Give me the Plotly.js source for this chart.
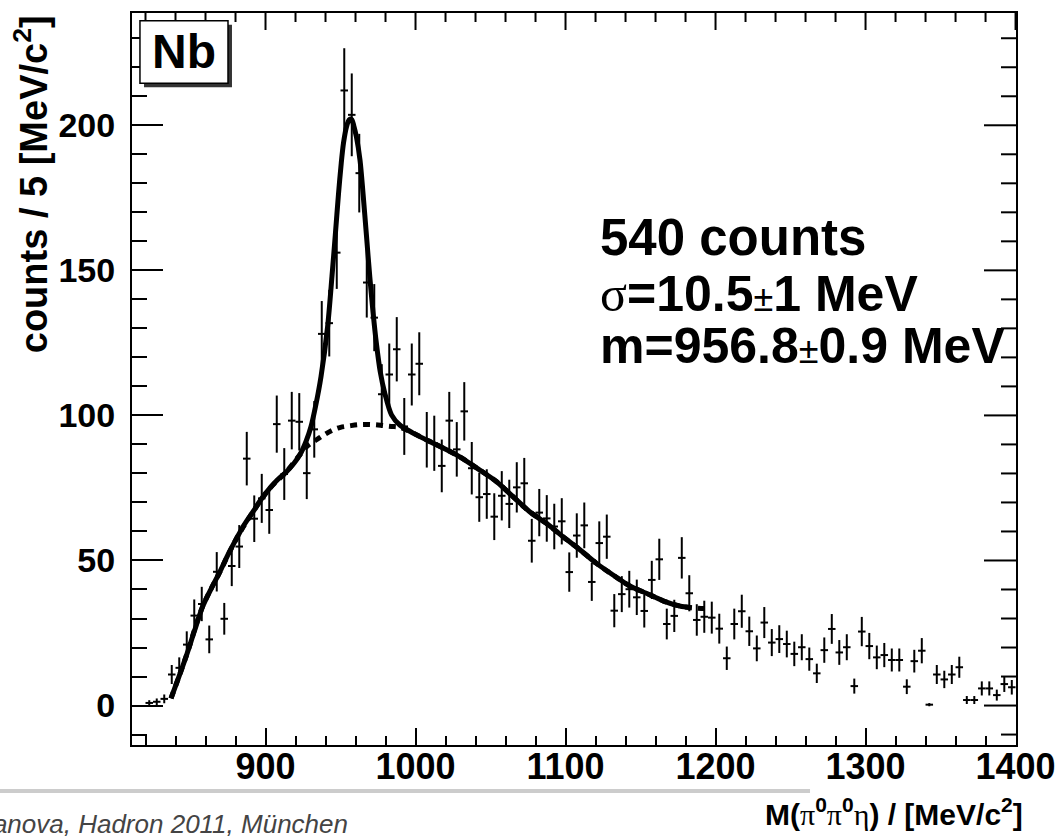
<!DOCTYPE html>
<html>
<head>
<meta charset="utf-8">
<script src="https://cdn.plot.ly/plotly-3.0.1.min.js"></script>
<style>html,body{margin:0;padding:0;background:#fff;}#chart{width:1059px;height:836px;}</style>
</head>
<body>
<div id="chart"></div>
<script>
// Bin centres (MeV/c^2), 5 MeV bins
const binCenters = [822.5,827.5,832.5,837.5,842.5,847.5,852.5,857.5,862.5,867.5,872.5,877.5,882.5,887.5,892.5,897.5,
  902.5,907.5,912.5,917.5,922.5,927.5,932.5,937.5,942.5,947.5,952.5,957.5,962.5,967.5,972.5,977.5,982.5,987.5,992.5,997.5,
  1002.5,1007.5,1012.5,1017.5,1022.5,1027.5,1032.5,1037.5,1042.5,1047.5,1052.5,1057.5,1062.5,1067.5,1072.5,1077.5,1082.5,1087.5,1092.5,1097.5,
  1102.5,1107.5,1112.5,1117.5,1122.5,1127.5,1132.5,1137.5,1142.5,1147.5,1152.5,1157.5,1162.5,1167.5,1172.5,1177.5,1182.5,1187.5,1192.5,1197.5,
  1202.5,1207.5,1212.5,1217.5,1222.5,1227.5,1232.5,1237.5,1242.5,1247.5,1252.5,1257.5,1262.5,1267.5,1272.5,1277.5,1282.5,1287.5,1292.5,1297.5,
  1302.5,1307.5,1312.5,1317.5,1322.5,1327.5,1332.5,1337.5,1342.5,1347.5,1352.5,1357.5,1362.5,1367.5,1372.5,1377.5,1382.5,1387.5,1392.5,1397.5];
// Counts per bin
const counts = [0.9,1.3,2.3,10.7,13,21,31,35,22.8,46.1,29.9,48.1,54.8,85.1,64.4,71.4,
  67.4,97.0,79.8,98.2,97.8,80.1,95.2,128.1,131.8,156.1,212.0,203.6,183.5,145.8,133.7,107.3,114.1,122.8,96.2,114.1,
  117.8,91.6,90.4,82.6,98.2,88.3,101.4,81.8,71.8,72.9,65.1,72.3,69.5,75.2,76.6,56.8,66.5,64.5,61.7,63.5,
  46.0,58.6,62.1,42.6,56.0,58.2,32.7,38.4,40.1,37.3,32.6,43.3,50.4,28.1,30.9,50.9,38.7,29.5,30.6,30.3,
  26.5,16.3,28.1,32.5,25.6,19.7,28.6,21.7,22.9,21.2,17.8,20.1,16.0,11.1,19.1,26.4,18.3,20.1,6.7,25.5,
  20.5,16.6,17.4,15.7,15.7,6.5,15.3,18.9,0.3,10.7,9.0,10.7,13.2,1.9,1.9,5.9,5.9,3.6,7.4,6.3];

// Full fit (signal + background)
const fitX = [837,842,847,852.5,858,864,869.5,875,880.7,886,891.7,897,902.9,908,914,919,923,927,930.3,933.5,937,941.4,944.3,946.5,948.7,950.5,952,954,955.8,957.5,959,960.6,963,965,967.3,969.5,971.7,973.9,976.5,979.5,984,989.5,998.4,1009.5,1027.3,1042.8,1053.9,1065,1076.1,1087.2,1098.3,1109.4,1120.6,1131.7,1142.8,1153.9,1165,1176.1,1184];
const fitY = [2.5,9.5,16.8,25.5,34,40.5,46,52,57.6,62.5,66.8,71,74.9,77.8,80.6,83.5,86.5,91,96.1,103.5,113.4,130.6,147.9,162,176.6,187,193.9,199.5,201.9,202,199.5,196,188,176.6,162,147.9,135.5,124.9,115,107.7,100.2,96.7,93.9,91,86.4,81.2,77.2,72,66.8,62.8,58.2,53.8,49,45,41.2,38.7,36.1,34.3,33.7];

// Background-only fit (dashed)
const bkgX = [837,847,858,869.5,880.7,891.7,902.9,914,923,928,934,940,945,950,956,962,967,973,978.5,984,989.5,998.4,1009.5,1027.3,1042.8,1053.9,1065,1076.1,1087.2,1098.3,1109.4,1120.6,1131.7,1142.8,1153.9,1165,1176.1,1184,1195];
const bkgY = [2.5,16.8,34,46,57.6,66.8,74.9,80.6,86.5,89.5,91.6,93.6,95,95.9,96.4,96.8,96.9,96.8,96.5,96.2,95.9,93.9,91,86.4,81.2,77.2,72,66.8,62.8,58.2,53.8,49,45,41.2,38.7,36.1,34.3,33.7,33.4];

const xRange = [811, 1400.3];
const yRange = [-13.6, 238.7];

const BOLD = "'Liberation Sans', Arial, Helvetica, sans-serif";
const SERIF_SPAN = "<span style=\"font-family:'Liberation Serif',serif;font-weight:normal\">";

// plot-area size in px (for tick lengths of the mirrored top/right ticks)
const W = 1059, H = 836, ML = 132, MR = 43, MT = 13, MB = 91;
const PW = W - ML - MR, PH = H - MT - MB;

const traces = [
  {
    x: binCenters, y: counts, type: 'scatter', mode: 'markers',
    marker: {size: 1, color: 'black'},
    error_y: {type: 'sqrt', color: 'black', thickness: 2, width: 0},
    error_x: {type: 'constant', value: 2.5, color: 'black', thickness: 2, width: 0},
    hoverinfo: 'skip', showlegend: false
  },
  {
    x: bkgX, y: bkgY, type: 'scatter', mode: 'lines',
    line: {color: 'black', width: 5, dash: '7px,6px', shape: 'spline', smoothing: 1},
    hoverinfo: 'skip', showlegend: false
  },
  {
    x: fitX, y: fitY, type: 'scatter', mode: 'lines',
    line: {color: 'black', width: 5, shape: 'spline', smoothing: 0.8},
    hoverinfo: 'skip', showlegend: false
  }
];

// Mirrored ticks on the top and right frame edges (ROOT style)
const tickShapes = [];
for (let v = 820; v <= 1400; v += 20) {
  const len = (v % 100 === 0) ? 17 : 9;
  tickShapes.push({type: 'line', xref: 'x', yref: 'paper', x0: v, x1: v, y0: 1, y1: 1 - len / PH,
    line: {color: 'black', width: 2}, layer: 'above'});
}
for (let v = -10; v <= 230; v += 10) {
  const len = (v % 50 === 0) ? 32 : 15;
  tickShapes.push({type: 'line', xref: 'paper', yref: 'y', x0: 1, x1: 1 - len / PW, y0: v, y1: v,
    line: {color: 'black', width: 2}, layer: 'above'});
}

const layout = {
  width: W, height: H,
  margin: {l: ML, r: MR, t: MT, b: MB, pad: 0},
  paper_bgcolor: 'white', plot_bgcolor: 'white',
  showlegend: false,
  xaxis: {
    range: xRange, showgrid: false, zeroline: false,
    showline: true, linecolor: 'black', linewidth: 2, mirror: true,
    ticks: 'inside', ticklen: 17, tickwidth: 2, tickcolor: 'black', tick0: 0, dtick: 100,
    minor: {ticks: 'inside', ticklen: 9, tickwidth: 2, tickcolor: 'black', dtick: 20, showgrid: false},
    tickfont: {family: BOLD, size: 36, color: 'black', weight: 'bold'},
    ticklabelstandoff: -11, ticklabeloverflow: 'allow'
  },
  yaxis: {
    range: yRange, showgrid: false, zeroline: false,
    showline: true, linecolor: 'black', linewidth: 2, mirror: true,
    ticks: 'inside', ticklen: 31, tickwidth: 2, tickcolor: 'black', tick0: 0, dtick: 50,
    minor: {ticks: 'inside', ticklen: 15, tickwidth: 2, tickcolor: 'black', dtick: 10, showgrid: false},
    tickfont: {family: BOLD, size: 34, color: 'black', weight: 'bold'},
    ticklabelstandoff: 8
  },
  shapes: tickShapes.concat([
    {type: 'rect', xref: 'paper', yref: 'paper', x0: 0.0136, x1: 0.1131, y0: 0.8985, y1: 0.9840,
     fillcolor: '#333333', line: {width: 0}, layer: 'above'},
    {type: 'rect', xref: 'paper', yref: 'paper', x0: 0.0090, x1: 0.1086, y0: 0.9040, y1: 0.9895,
     fillcolor: 'white', line: {color: 'black', width: 1.5}, layer: 'above'},
    {type: 'line', xref: 'paper', yref: 'paper', x0: -0.16, x1: 0.767, y0: -0.0628, y1: -0.0628,
     line: {color: '#cccccc', width: 4}}
  ]),
  annotations: [
    {text: 'Nb', xref: 'paper', yref: 'paper', x: 0.0588, y: 0.9468, xanchor: 'center', yanchor: 'middle',
     showarrow: false, font: {family: BOLD, size: 48, color: 'black', weight: 'bold'}},
    {text: '540 counts', xref: 'paper', yref: 'paper', x: 0.527, y: 0.6930, xanchor: 'left', yanchor: 'middle',
     showarrow: false, font: {family: BOLD, size: 51, color: 'black', weight: 'bold'}},
    {text: SERIF_SPAN + "σ</span>=10.5<span style=\"font-weight:normal;font-size:36px\">±</span>1 MeV",
     xref: 'paper', yref: 'paper', x: 0.527, y: 0.6161, xanchor: 'left', yanchor: 'middle',
     showarrow: false, font: {family: BOLD, size: 50, color: 'black', weight: 'bold'}},
    {text: "m=956.8<span style=\"font-weight:normal;font-size:36px\">±</span>0.9 MeV",
     xref: 'paper', yref: 'paper', x: 0.527, y: 0.5451, xanchor: 'left', yanchor: 'middle',
     showarrow: false, font: {family: BOLD, size: 50, color: 'black', weight: 'bold'}},
    {text: 'counts / 5 [MeV/c<sup>2</sup>]', xref: 'paper', yref: 'paper', x: -0.114, y: 1.0,
     xanchor: 'center', yanchor: 'top', textangle: -90, showarrow: false,
     font: {family: BOLD, size: 38, color: 'black', weight: 'bold'}},
    {text: "M(" + SERIF_SPAN + "π</span><sup>0</sup>" + SERIF_SPAN + "π</span><sup>0</sup>" + SERIF_SPAN + "η</span>) / [MeV/c<sup>2</sup>]",
     xref: 'paper', yref: 'paper', x: 1.0102, y: -0.0915, xanchor: 'right', yanchor: 'middle',
     showarrow: false, font: {family: BOLD, size: 30, color: 'black', weight: 'bold'}},
    {text: '<i>M. Nanova, Hadron 2011, München</i>', xref: 'paper', yref: 'paper', x: 0.2466, y: -0.108,
     xanchor: 'right', yanchor: 'middle', showarrow: false,
     font: {family: BOLD, size: 26, color: '#444444'}}
  ]
};

Plotly.newPlot('chart', traces, layout, {displayModeBar: false, staticPlot: true});
</script>
</body>
</html>
